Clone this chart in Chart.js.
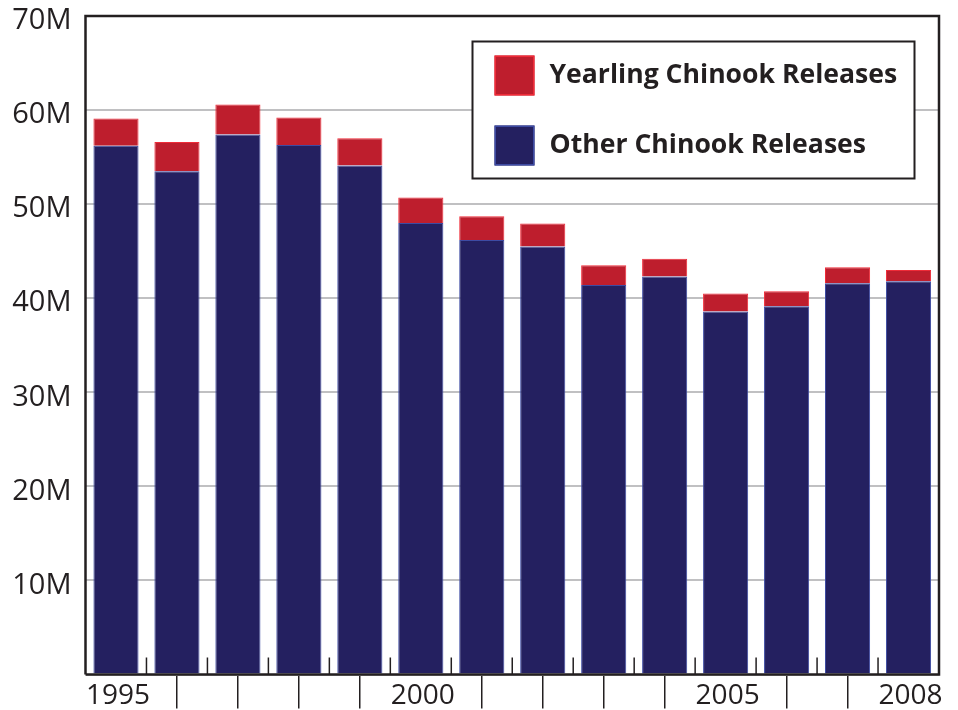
<!DOCTYPE html>
<html>
<head>
<meta charset="utf-8">
<script src="https://cdn.jsdelivr.net/npm/chart.js@4/dist/chart.umd.min.js"></script>
<style>
  html, body { margin: 0; padding: 0; background: #fff; }
  #wrap { width: 958px; height: 710px; }
</style>
</head>
<body>
<div id="wrap"><canvas id="chinook"></canvas></div>
<script>
// release years and the few that get a printed label
const years = ['1995', '1996', '1997', '1998', '1999', '2000', '2001',
               '2002', '2003', '2004', '2005', '2006', '2007', '2008'];
const shownYears = ['1995', '2000', '2005', '2008'];

// millions of fish released
const otherReleases = [56.2, 53.5, 57.4, 56.3, 54.1, 48.0, 46.2, 45.5, 41.4, 42.3, 38.6, 39.15, 41.6, 41.8];
const yearlingReleases = [2.9, 3.1, 3.2, 2.9, 2.9, 2.7, 2.5, 2.45, 2.1, 1.9, 1.9, 1.6, 1.7, 1.2];

const yTicks = [0, 10, 20, 30, 40, 50, 60, 70];

const ink = '#231f20';
const font = '"Open Sans", "DejaVu Sans", sans-serif';

// frame, little boundary ticks and the boxed legend
const extras = {
    id: 'extras',
    afterDatasetsDraw(chart) {
        const c = chart.ctx;
        const a = chart.chartArea;
        const x = chart.scales.x;
        c.save();
        c.strokeStyle = ink;
        c.lineWidth = 1.5;
        for (let i = 0; i < years.length - 1; i++) {
            const bx = (x.getPixelForValue(i) + x.getPixelForValue(i + 1)) / 2;
            c.beginPath();
            c.moveTo(bx, a.bottom);
            c.lineTo(bx, a.bottom - 17);
            c.stroke();
        }
        c.lineWidth = 2.5;
        c.beginPath();
        c.moveTo(a.left, a.bottom);
        c.lineTo(a.left, a.top);
        c.lineTo(a.right, a.top);
        c.lineTo(a.right, a.bottom);
        c.lineTo(a.left, a.bottom);
        c.stroke();
        c.restore();
    },
    afterDraw(chart) {
        const c = chart.ctx;
        const a = chart.chartArea;
        const bx = a.left + 387, by = a.top + 25.5, bw = 442, bh = 137;
        c.save();
        c.fillStyle = '#fff';
        c.fillRect(bx, by, bw, bh);
        c.strokeStyle = ink;
        c.lineWidth = 2;
        c.strokeRect(bx, by, bw, bh);
        const items = [chart.data.datasets[1], chart.data.datasets[0]];
        items.forEach((ds, i) => {
            const sy = by + 14 + i * 70;
            c.fillStyle = ds.backgroundColor;
            c.fillRect(bx + 22, sy, 40, 40);
            c.strokeStyle = ds.borderColor;
            c.lineWidth = 1.5;
            c.strokeRect(bx + 22.75, sy + 0.75, 38.5, 38.5);
            c.fillStyle = ink;
            c.font = 'bold 26.6px ' + font;
            c.textBaseline = 'middle';
            c.textAlign = 'left';
            c.fillText(ds.label, bx + 77, sy + 20);
        });
        c.restore();
    }
};

new Chart(
    document.getElementById('chinook'),
    {
        type: 'bar',
        data: {
            labels: years,
            datasets: [
                {
                    label: 'Other Chinook Releases',
                    data: otherReleases,
                    backgroundColor: '#242060',
                    borderColor: '#3d4ba3',
                    borderWidth: 1
                },
                {
                    label: 'Yearling Chinook Releases',
                    data: yearlingReleases,
                    backgroundColor: '#be1e2d',
                    borderColor: '#ef2b38',
                    borderWidth: 1
                }
            ]
        },
        options: {
            responsive: true,
            maintainAspectRatio: false,
            animation: false,
            layout: {
                padding: { top: 16, right: 19, left: 0, bottom: 0 }
            },
            datasets: {
                bar: {
                    barPercentage: 0.74,
                    categoryPercentage: 1
                }
            },
            scales: {
                x: {
                    stacked: true,
                    afterFit: (scale) => {
                        scale.height = 35.5;
                        scale.paddingLeft = 0;
                        scale.paddingRight = 0;
                    },
                    border: { display: false },
                    grid: {
                        offset: false,
                        drawOnChartArea: false,
                        drawTicks: true,
                        tickLength: 34,
                        lineWidth: 1.5,
                        color: (ctx) => shownYears.includes(years[ctx.index]) ? 'rgba(0,0,0,0)' : ink
                    },
                    ticks: {
                        autoSkip: false,
                        maxRotation: 0,
                        padding: -29,
                        labelOffset: 2,
                        color: ink,
                        font: { family: font, size: 28 },
                        callback: (v, i) => shownYears.includes(years[i]) ? years[i] : ''
                    }
                },
                y: {
                    stacked: true,
                    min: 0,
                    max: 70,
                    afterFit: (scale) => {
                        scale.width = 85.5;
                        scale.paddingTop = 0;
                        scale.paddingBottom = 0;
                    },
                    afterBuildTicks: (scale) => { scale.ticks = yTicks.map(v => ({ value: v })); },
                    border: { display: false },
                    grid: {
                        color: '#c0c0c2',
                        lineWidth: 2,
                        drawTicks: false
                    },
                    ticks: {
                        padding: 14,
                        labelOffset: 5,
                        color: ink,
                        font: { family: font, size: 29 },
                        callback: (v) => v === 0 ? '' : v + 'M'
                    }
                }
            },
            plugins: {
                legend: { display: false },
                tooltip: { enabled: false },
                title: { display: false }
            }
        },
        plugins: [extras]
    }
);
</script>
</body>
</html>
